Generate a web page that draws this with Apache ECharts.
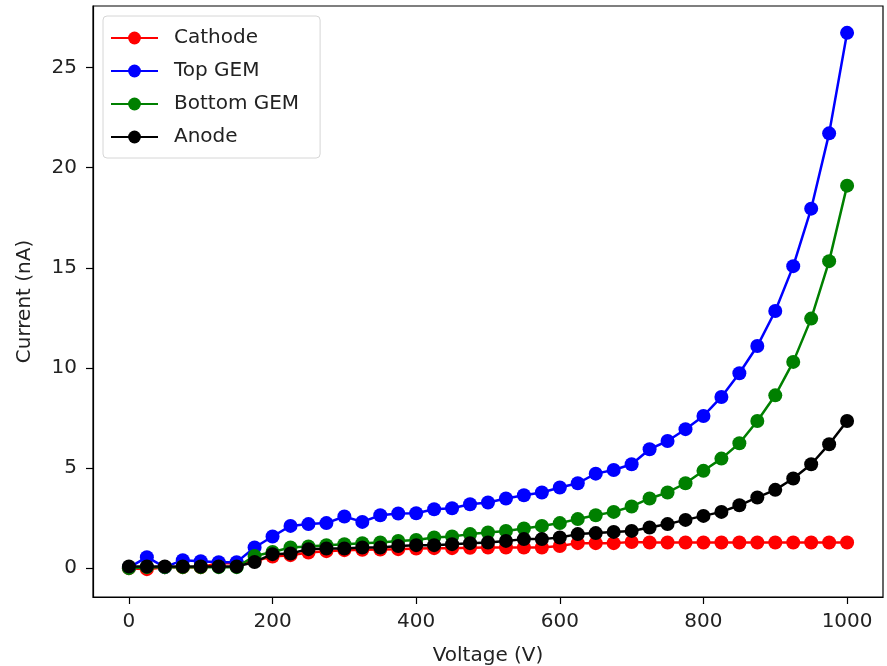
<!DOCTYPE html>
<html>
<head>
<meta charset="utf-8">
<script src="https://cdn.jsdelivr.net/npm/echarts@6/dist/echarts.min.js"></script>
<style>html,body{margin:0;padding:0;background:#fff}#c{width:887px;height:666px}</style>
</head>
<body>
<div id="c"></div>
<script>
const voltage = [0,25,50,75,100,125,150,175,200,225,250,275,300,325,350,375,400,425,450,475,500,525,550,575,600,625,650,675,700,725,750,775,800,825,850,875,900,925,950,975,1000];
const cathode = [0.0,-0.05,0.05,0.05,0.05,0.25,0.25,0.35,0.58,0.65,0.78,0.85,0.9,0.92,0.93,0.95,0.98,1.0,1.0,1.02,1.03,1.03,1.03,1.03,1.11,1.25,1.25,1.25,1.31,1.28,1.28,1.28,1.28,1.28,1.28,1.28,1.28,1.28,1.28,1.28,1.28];
const topGEM = [0.03,0.55,0.05,0.4,0.35,0.3,0.3,1.03,1.58,2.11,2.2,2.25,2.58,2.31,2.64,2.73,2.74,2.94,2.99,3.19,3.28,3.48,3.64,3.78,4.03,4.24,4.72,4.9,5.19,5.94,6.35,6.94,7.6,8.55,9.73,11.09,12.84,15.08,17.95,21.71,26.73];
const bottomGEM = [0.0,0.05,0.05,0.05,0.05,0.05,0.05,0.61,0.81,1.03,1.08,1.15,1.2,1.25,1.28,1.36,1.41,1.53,1.58,1.7,1.78,1.86,1.98,2.11,2.25,2.45,2.64,2.81,3.08,3.48,3.78,4.24,4.86,5.47,6.24,7.35,8.63,10.3,12.46,15.33,19.1];
const anode = [0.08,0.08,0.08,0.08,0.08,0.08,0.08,0.31,0.7,0.73,0.95,0.98,0.98,1.03,1.03,1.11,1.15,1.15,1.2,1.25,1.28,1.36,1.45,1.45,1.53,1.7,1.75,1.81,1.86,2.03,2.2,2.41,2.61,2.81,3.14,3.53,3.91,4.48,5.19,6.19,7.35];
const xTicks = [0,200,400,600,800,1000];
const yTicks = [0,5,10,15,20,25];
const seriesNames = ['Cathode','Top GEM','Bottom GEM','Anode'];
const seriesColors = ['#ff0000','#0000ff','#008000','#000000'];
const seriesData = [cathode, topGEM, bottomGEM, anode];

const font = 'DejaVu Sans';
const chart = echarts.init(document.getElementById('c'));
chart.setOption({
  animation: false,
  backgroundColor: '#fff',
  textStyle: {fontFamily: font},
  grid: {left: 93, right: 4, top: 6, bottom: 69, outerBoundsMode: 'none', containLabel: false, show: true, borderColor: '#000', borderWidth: 1.2, backgroundColor: 'transparent'},
  legend: {
    orient: 'vertical', left: 103, top: 16,
    padding: [12, 21, 11, 7],
    itemWidth: 47, itemHeight: 16, itemGap: 13,
    backgroundColor: 'rgba(255,255,255,0.85)',
    borderColor: '#d6d6d6', borderWidth: 1, borderRadius: 4,
    textStyle: {fontFamily: font, fontSize: 20, color: '#222', padding: [0,0,0,11]},
    data: seriesNames
  },
  xAxis: {
    type: 'value', min: -50, max: 1050,
    name: 'Voltage (V)', nameLocation: 'middle', nameGap: 49,
    nameTextStyle: {fontFamily: font, fontSize: 20, color: '#222'},
    axisLine: {show: true, onZero: false, lineStyle: {color: '#000', width: 1.2}},
    axisTick: {show: true, inside: false, length: 7, customValues: xTicks, lineStyle: {color: '#000', width: 1.2}},
    axisLabel: {customValues: xTicks, formatter: v => String(v), fontFamily: font, fontSize: 20, color: '#222', margin: 15},
    splitLine: {show: false}
  },
  yAxis: {
    type: 'value', min: -1.44, max: 28.07,
    name: 'Current (nA)', nameLocation: 'middle', nameGap: 58, nameRotate: 90,
    nameTextStyle: {fontFamily: font, fontSize: 20, color: '#222'},
    axisLine: {show: true, onZero: false, lineStyle: {color: '#000', width: 1.2}},
    axisTick: {show: true, inside: false, length: 7, customValues: yTicks, lineStyle: {color: '#000', width: 1.2}},
    axisLabel: {customValues: yTicks, formatter: v => String(v), fontFamily: font, fontSize: 20, color: '#222', margin: 16},
    splitLine: {show: false}
  },
  series: seriesNames.map((n, i) => ({
    name: n, type: 'line',
    data: voltage.map((v, j) => [v, seriesData[i][j]]),
    symbol: 'circle', symbolSize: 14, showSymbol: true,
    color: seriesColors[i],
    lineStyle: {color: seriesColors[i], width: 2.5},
    itemStyle: {color: seriesColors[i]},
    z: 2 + i
  }))
});
</script>
</body>
</html>
